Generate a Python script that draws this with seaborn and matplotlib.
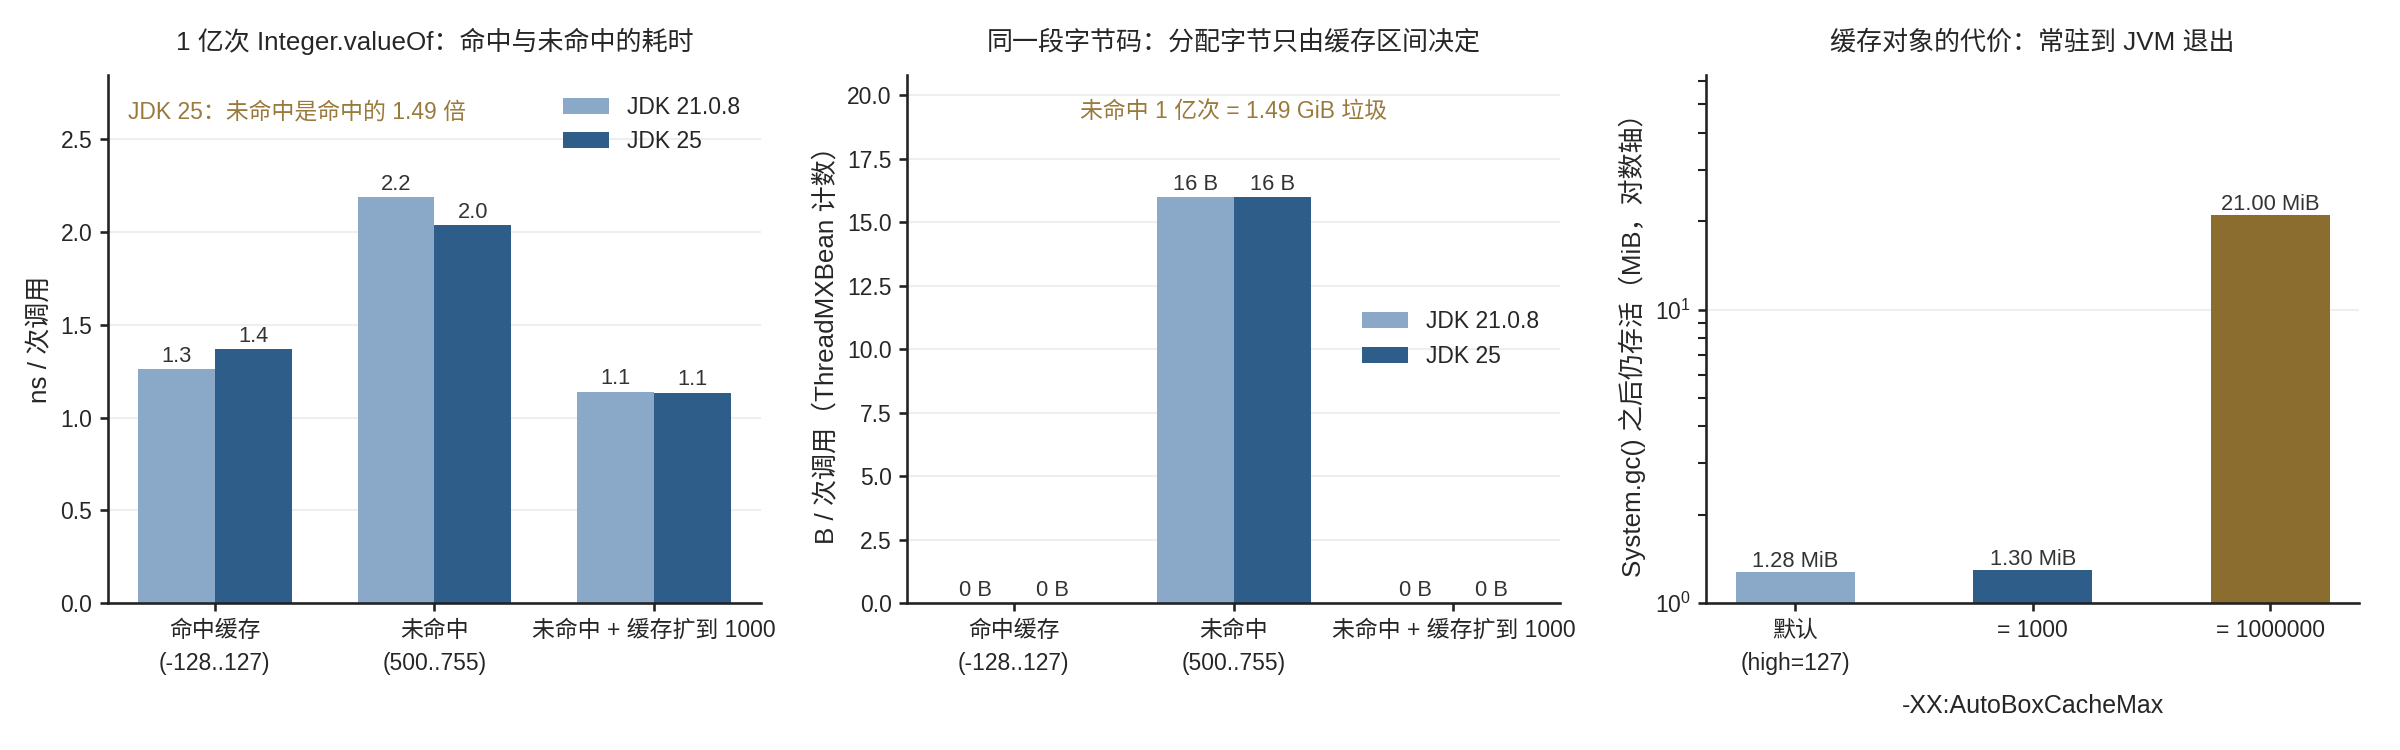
import numpy as np
import pandas as pd
import matplotlib
matplotlib.use("Agg")
import matplotlib.pyplot as plt
import seaborn as sns

# data
jdks = ["JDK 21.0.8", "JDK 25"]
cases = ["命中缓存\n(-128..127)", "未命中\n(500..755)", "未命中 + 缓存扩到 1000"]
ns_jdk21 = [1.26, 2.19, 1.14]
ns_jdk25 = [1.37, 2.04, 1.135]
bytes_jdk21 = [0, 16, 0]
bytes_jdk25 = [0, 16, 0]
cache_cfg = ["默认\n(high=127)", "= 1000", "= 1000000"]
retained_mib = [1.28, 1.30, 21.00]

light = "#8aa8c8"
dark = "#2f5d8a"
brown = "#8b6d30"
note_color = "#9a7a3c"

sns.set_theme(style="white")
plt.rcParams["font.family"] = ["Liberation Sans", "Noto Sans CJK SC", "DejaVu Sans"]
plt.rcParams["axes.unicode_minus"] = False


def long_df(v21, v25):
    return pd.DataFrame({
        "case": cases * 2,
        "jdk": [jdks[0]] * 3 + [jdks[1]] * 3,
        "value": list(v21) + list(v25),
    })


def style_axis(ax):
    sns.despine(ax=ax)
    ax.spines["left"].set_color("#222222")
    ax.spines["bottom"].set_color("#222222")
    ax.tick_params(axis="both", which="both", direction="out", length=4,
                   color="#222222", labelsize=11, bottom=True, left=True)
    ax.yaxis.grid(True, color="#eeeeee", linewidth=1)
    ax.set_axisbelow(True)
    for lab in ax.get_xticklabels():
        lab.set_linespacing(1.6)


fig, axes = plt.subplots(1, 3, figsize=(16, 5), dpi=150)
fig.subplots_adjust(left=0.045, right=0.983, bottom=0.196, top=0.90, wspace=0.224)

# panel 1: time per call
ax = axes[0]
sns.barplot(data=long_df(ns_jdk21, ns_jdk25), x="case", y="value", hue="jdk",
            palette=[light, dark], width=0.7, gap=0, saturation=1, linewidth=0, ax=ax)
for c in ax.containers:
    ax.bar_label(c, fmt="%.1f", fontsize=10.5, color="#333333", padding=1)
ax.set_ylim(0, max(ns_jdk21 + ns_jdk25) * 1.3)
ax.set_xlim(-0.485, 2.485)
ax.set_xlabel("")
ax.set_ylabel("ns / 次调用", fontsize=12.5)
ax.set_title("1 亿次 Integer.valueOf：命中与未命中的耗时", fontsize=12.5, pad=12)
ax.legend(frameon=False, loc="upper right", fontsize=11)
ratio = ns_jdk25[1] / ns_jdk25[0]
ax.text(0.03, 0.93, f"JDK 25：未命中是命中的 {ratio:.2f} 倍", transform=ax.transAxes,
        color=note_color, fontsize=11, va="center")
style_axis(ax)

# panel 2: bytes allocated per call
ax = axes[1]
sns.barplot(data=long_df(bytes_jdk21, bytes_jdk25), x="case", y="value", hue="jdk",
            palette=[light, dark], width=0.7, gap=0, saturation=1, linewidth=0, ax=ax)
for c in ax.containers:
    ax.bar_label(c, fmt="%.0f B", fontsize=10.5, color="#333333", padding=1)
ax.set_ylim(0, max(bytes_jdk21 + bytes_jdk25) * 1.3)
ax.set_xlim(-0.485, 2.485)
ax.set_xlabel("")
ax.set_ylabel("B / 次调用（ThreadMXBean 计数）", fontsize=12.5)
ax.set_title("同一段字节码：分配字节只由缓存区间决定", fontsize=12.5, pad=12)
ax.legend(frameon=False, loc="center right", fontsize=11)
gib = 1e8 * bytes_jdk25[1] / 2**30
ax.text(0.5, 0.93, f"未命中 1 亿次 = {gib:.2f} GiB 垃圾", transform=ax.transAxes,
        color=note_color, fontsize=11, va="center", ha="center")
style_axis(ax)

# panel 3: retained cache size, log axis
ax = axes[2]
df3 = pd.DataFrame({"cfg": cache_cfg, "mib": retained_mib})
sns.barplot(data=df3, x="cfg", y="mib", hue="cfg", palette=[light, dark, brown],
            width=0.5, saturation=1, linewidth=0, legend=False, ax=ax)
ax.set_yscale("log")
for c in ax.containers:
    ax.bar_label(c, fmt="%.2f MiB", fontsize=10.5, color="#333333", padding=0)
ax.set_ylim(1, max(retained_mib) * 3)
ax.set_xlim(-0.375, 2.375)
ax.set_xlabel("-XX:AutoBoxCacheMax", fontsize=12, labelpad=9)
ax.set_ylabel("System.gc() 之后仍存活（MiB，对数轴）", fontsize=12.5)
ax.set_title("缓存对象的代价：常驻到 JVM 退出", fontsize=12.5, pad=12)
style_axis(ax)
ax.yaxis.grid(True, which="minor", color="none")

fig.savefig("out.png", dpi=150)
